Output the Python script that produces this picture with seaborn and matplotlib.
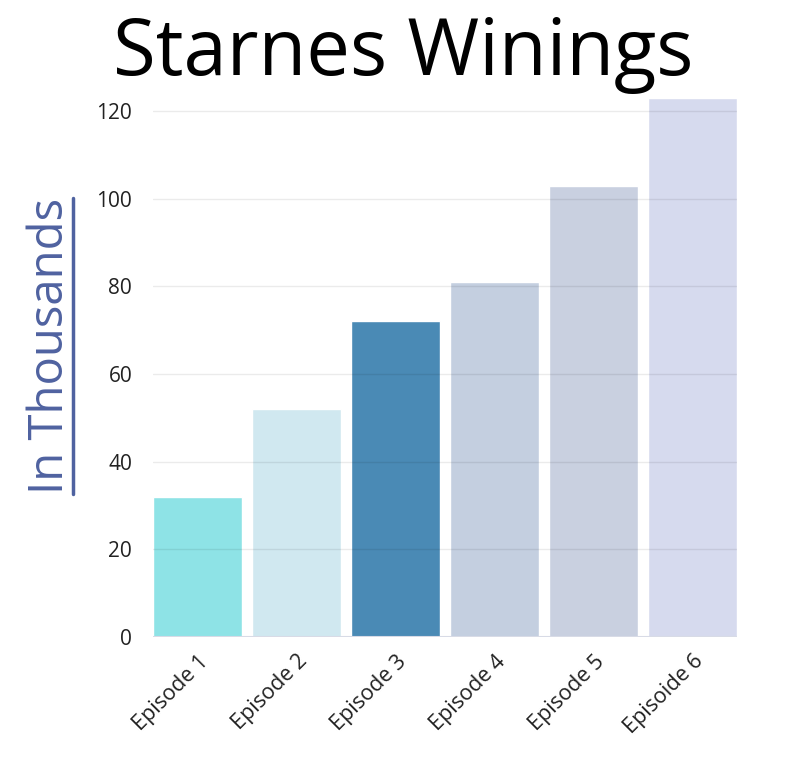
import matplotlib.pyplot as plt
import pandas as pd
import seaborn as sns
from matplotlib.lines import Line2D

# Data
episodes = ['Episode 1', 'Episode 2', 'Episode 3', 'Episode 4', 'Episode 5', 'Episoide 6']
winnings = [32, 52, 72, 81, 103, 123]
bar_colors = ['#8ee3e6', '#d0e8f0', '#4a8ab5', '#c4cfe0', '#c9d0e0', '#d6daee']

df = pd.DataFrame({'episode': episodes, 'value': winnings})

sns.set_style('white')
plt.rcParams['font.family'] = ['Open Sans', 'DejaVu Sans']

fig = plt.figure(figsize=(8.06, 7.71), dpi=100)
ax = fig.add_axes([153 / 806, 1 - 637 / 771, (737 - 153) / 806, (637 - 98) / 771])

sns.barplot(data=df, x='episode', y='value', hue='episode', palette=bar_colors,
            width=0.9, legend=False, ax=ax, saturation=1, zorder=2)

ax.set_xlim(-0.45, 5.45)
ax.set_ylim(0, 123)
ax.set_yticks([0, 20, 40, 60, 80, 100, 120])
for y in [20, 40, 60, 80, 100, 120]:
    ax.axhline(y, color='black', alpha=0.08, lw=1, zorder=3)
ax.axhline(0, color='#d8dbe6', lw=1.5, zorder=3)

for s in ax.spines.values():
    s.set_visible(False)

ax.tick_params(axis='y', labelsize=15, colors='#222222', length=0, pad=15)
ax.tick_params(axis='x', labelsize=15.5, colors='#222222', length=0, pad=10)
plt.setp(ax.get_xticklabels(), rotation=45, ha='right', rotation_mode='anchor')
ax.set_xlabel('')
ax.set_ylabel('')

fig.text(0.5, 1 - 55 / 771, 'Starnes Winings', ha='center', va='center',
         fontsize=56, color='black')

ylab = fig.text(50 / 806, 1 - 346 / 771, 'In Thousands', rotation=90, ha='center',
                va='center', fontsize=34, color='#4f62a0')

# underline the y label
fig.canvas.draw()
bb = ylab.get_window_extent().transformed(fig.transFigure.inverted())
ux = bb.x1 - 1 / 806
fig.add_artist(Line2D([ux, ux], [bb.y0, bb.y1], color='#4f62a0', lw=2.5,
                      transform=fig.transFigure))

fig.savefig('out.png', dpi=100)
